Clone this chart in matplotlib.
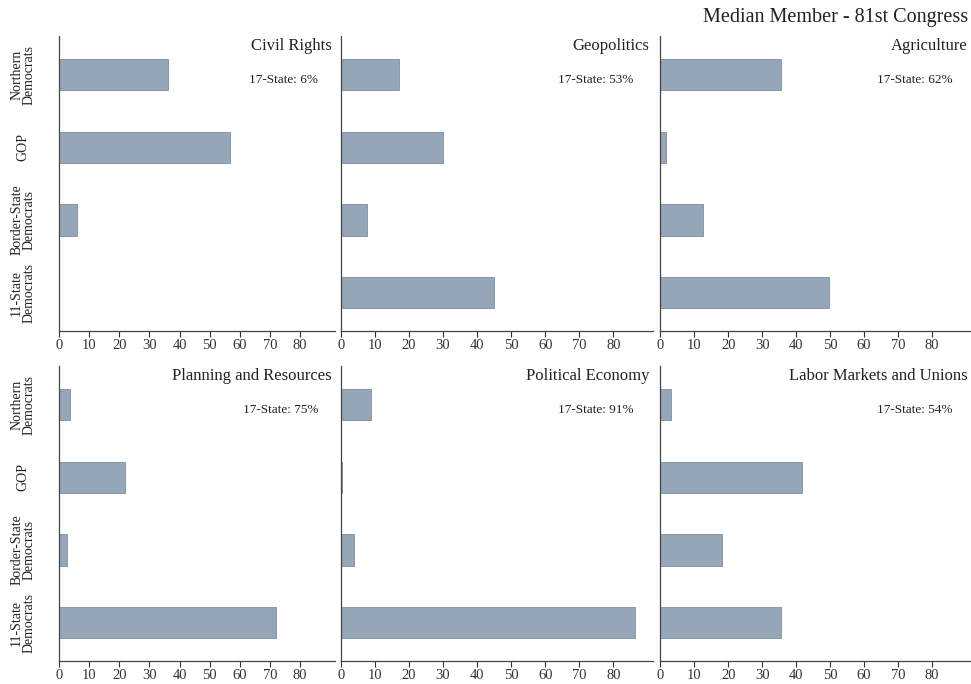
import matplotlib.pyplot as plt

plt.rcParams["font.family"] = ["Liberation Serif", "DejaVu Serif"]

groups = ["Northern\nDemocrats", "GOP", "Border-State\nDemocrats", "11-State\nDemocrats"]
topics = ["Civil Rights", "Geopolitics", "Agriculture",
          "Planning and Resources", "Political Economy", "Labor Markets and Unions"]
share_17_state = [6, 53, 62, 75, 91, 54]

civil_rights = [36, 56.7, 5.8, 0]
geopolitics = [17, 30, 7.6, 45]
agriculture = [35.6, 1.8, 12.7, 49.8]
planning = [3.8, 21.8, 2.6, 72.1]
political_economy = [8.8, 0.3, 4.0, 86.4]
labor = [3.3, 41.8, 18.1, 35.6]
values = [civil_rights, geopolitics, agriculture, planning, political_economy, labor]

xticks = [0, 10, 20, 30, 40, 50, 60, 70, 80]

fig = plt.figure(figsize=(9.71, 6.84), dpi=100)

lefts = [0.0608, 0.351, 0.680]
widths = [0.284, 0.321, 0.320]
bottoms = [0.516, 0.0336]
height = 0.431

bar_color = "#94a6b8"
for i, (topic, vals, pct) in enumerate(zip(topics, values, share_17_state)):
    row, col = divmod(i, 3)
    ax = fig.add_axes([lefts[col], bottoms[row], widths[col], height])
    ypos = list(range(len(groups)))
    ax.barh(ypos, vals, height=0.43, color=bar_color, edgecolor="#7f90a2", linewidth=0.6)
    ax.set_ylim(3.53, -0.53)
    ax.set_xlim(0, 91.5)
    ax.set_xticks(xticks)
    ax.tick_params(axis="x", labelsize=10.5, length=4, width=0.8, pad=2, colors="#333333")
    for s in ["top", "right"]:
        ax.spines[s].set_visible(False)
    for s in ["left", "bottom"]:
        ax.spines[s].set_color("#444444")
        ax.spines[s].set_linewidth(0.9)
    if col == 0:
        ax.set_yticks(ypos)
        ax.set_yticklabels(groups, rotation=90, va="center", ha="center",
                           fontsize=10, linespacing=0.95, color="#222222")
        ax.tick_params(axis="y", length=0, pad=26)
    else:
        ax.set_yticks([])
    ax.text(0.99, 0.966, topic, transform=ax.transAxes, ha="right", va="center",
            fontsize=12, color="#222222")
    ax.text(0.94, 0.85, f"17-State: {pct}%", transform=ax.transAxes, ha="right",
            va="center", fontsize=9.5, color="#222222")

fig.text(0.997, 0.975, "Median Member - 81st Congress", ha="right", va="center",
         fontsize=14.5, color="#222222")

fig.savefig("out.png", dpi=100)
